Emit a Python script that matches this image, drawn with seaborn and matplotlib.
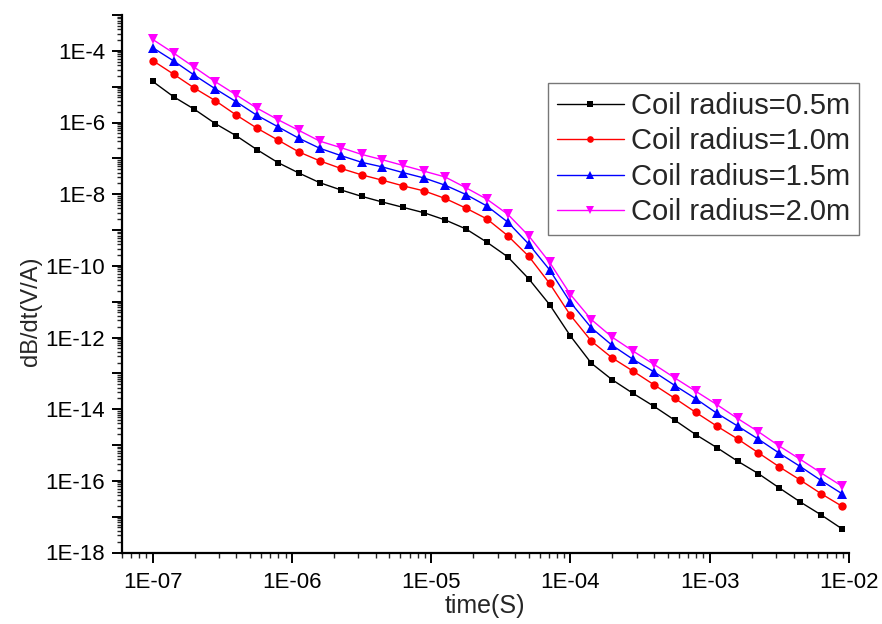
import numpy as np
import pandas as pd
import matplotlib
matplotlib.use("Agg")
import matplotlib.pyplot as plt
import matplotlib.ticker as mticker
import seaborn as sns

time_s = [1.000e-7, 1.413e-7, 1.995e-7, 2.818e-7, 3.981e-7, 5.623e-7, 7.943e-7,
          1.122e-6, 1.585e-6, 2.239e-6, 3.162e-6, 4.467e-6, 6.310e-6, 8.913e-6,
          1.259e-5, 1.778e-5, 2.512e-5, 3.548e-5, 5.012e-5, 7.079e-5,
          1.000e-4, 1.413e-4, 1.995e-4, 2.818e-4, 3.981e-4, 5.623e-4, 7.943e-4,
          1.122e-3, 1.585e-3, 2.239e-3, 3.162e-3, 4.467e-3, 6.310e-3, 8.913e-3]

r05 = [1.41e-5, 5.25e-6, 2.34e-6, 9.33e-7, 4.27e-7, 1.74e-7, 7.59e-8, 3.89e-8, 2.09e-8,
       1.32e-8, 8.71e-9, 6.03e-9, 4.27e-9, 3.02e-9, 1.91e-9, 1.07e-9, 4.57e-10, 1.78e-10,
       4.37e-11, 8.32e-12, 1.10e-12, 1.91e-13, 6.61e-14, 2.75e-14, 1.20e-14, 4.90e-15,
       1.95e-15, 8.51e-16, 3.55e-16, 1.58e-16, 6.31e-17, 2.57e-17, 1.12e-17, 4.57e-18]

r10 = [5.37e-5, 2.24e-5, 9.12e-6, 4.07e-6, 1.62e-6, 6.92e-7, 3.24e-7, 1.51e-7, 8.51e-8,
       5.25e-8, 3.47e-8, 2.45e-8, 1.70e-8, 1.23e-8, 7.59e-9, 4.07e-9, 2.04e-9, 6.92e-10,
       1.86e-10, 3.24e-11, 4.17e-12, 7.94e-13, 2.69e-13, 1.15e-13, 4.79e-14, 2.00e-14,
       8.13e-15, 3.39e-15, 1.48e-15, 6.03e-16, 2.45e-16, 1.05e-16, 4.37e-17, 1.95e-17]

r15 = [1.23e-4, 5.25e-5, 2.09e-5, 8.71e-6, 3.80e-6, 1.58e-6, 7.59e-7, 3.63e-7, 1.91e-7,
       1.20e-7, 7.76e-8, 5.75e-8, 3.98e-8, 2.82e-8, 1.78e-8, 9.77e-9, 4.68e-9, 1.66e-9,
       4.07e-10, 7.76e-11, 9.55e-12, 1.86e-12, 6.03e-13, 2.45e-13, 1.10e-13, 4.57e-14,
       1.95e-14, 7.76e-15, 3.39e-15, 1.45e-15, 5.89e-16, 2.51e-16, 1.02e-16, 4.37e-17]

r20 = [2.09e-4, 8.71e-5, 3.47e-5, 1.38e-5, 5.89e-6, 2.51e-6, 1.20e-6, 6.03e-7, 3.02e-7,
       2.00e-7, 1.29e-7, 9.12e-8, 6.31e-8, 4.37e-8, 3.02e-8, 1.51e-8, 7.24e-9, 2.75e-9,
       6.92e-10, 1.26e-10, 1.58e-11, 3.16e-12, 1.02e-12, 4.17e-13, 1.78e-13, 7.41e-14,
       3.16e-14, 1.35e-14, 5.50e-15, 2.34e-15, 9.33e-16, 3.98e-16, 1.66e-16, 7.08e-17]

labels = ["Coil radius=0.5m", "Coil radius=1.0m", "Coil radius=1.5m", "Coil radius=2.0m"]
series = [r05, r10, r15, r20]

df = pd.concat([pd.DataFrame({"time": time_s, "value": s, "series": lab})
                for s, lab in zip(series, labels)], ignore_index=True)

sns.set_style("ticks")
plt.rcParams["font.family"] = ["Liberation Sans", "DejaVu Sans"]

fig = plt.figure(figsize=(8.82, 6.24), dpi=100)
ax = fig.add_axes([121.7 / 882, 1 - 552.5 / 624, (849 - 121.7) / 882, (552.5 - 15) / 624])

palette = {labels[0]: "#000000", labels[1]: "#FF0000", labels[2]: "#0000FF", labels[3]: "#FF00FF"}
markers = {labels[0]: "s", labels[1]: "o", labels[2]: "^", labels[3]: "v"}
sizes = {labels[0]: 5, labels[1]: 6, labels[2]: 7, labels[3]: 7}

for lab in labels:
    sub = df[df["series"] == lab]
    sns.lineplot(data=sub, x="time", y="value", ax=ax, color=palette[lab],
                 marker=markers[lab], markersize=sizes[lab], markeredgewidth=0,
                 linewidth=1.0, label=lab, estimator=None, sort=False)

ax.set_xscale("log")
ax.set_yscale("log")
ax.set_xlim(6e-8, 1e-2)
ax.set_ylim(1e-18, 1e-3)

ax.xaxis.set_major_locator(mticker.LogLocator(base=10, numticks=20))
ax.xaxis.set_minor_locator(mticker.LogLocator(base=10, subs=np.arange(2, 10), numticks=50))
ax.yaxis.set_major_locator(mticker.LogLocator(base=10, numticks=30))
ax.yaxis.set_minor_locator(mticker.LogLocator(base=10, subs=np.arange(2, 10), numticks=100))


def xfmt(v, pos):
    e = int(round(np.log10(v)))
    return "1E-%02d" % (-e)


def yfmt(v, pos):
    e = int(round(np.log10(v)))
    if e % 2 != 0 or e > -4:
        return ""
    return "1E%d" % e


ax.xaxis.set_major_formatter(mticker.FuncFormatter(xfmt))
ax.yaxis.set_major_formatter(mticker.FuncFormatter(yfmt))
ax.xaxis.set_minor_formatter(mticker.NullFormatter())
ax.yaxis.set_minor_formatter(mticker.NullFormatter())

for side in ["top", "right"]:
    ax.spines[side].set_visible(False)
for side in ["left", "bottom"]:
    ax.spines[side].set_linewidth(1.6)
    ax.spines[side].set_color("black")

ax.tick_params(axis="both", which="major", direction="out", length=7, width=1.4,
               labelsize=16, colors="black")
ax.tick_params(axis="x", which="major", pad=7)
ax.tick_params(axis="y", which="major", pad=5)
ax.tick_params(axis="both", which="minor", direction="out", length=3.5, width=1.0)

ax.set_xlabel("time(S)", fontsize=18, labelpad=1)
ax.set_ylabel("dB/dt(V/A)", fontsize=17, labelpad=2)
ax.yaxis.set_label_coords((42 - 121.7) / 727.3, (552.5 - 311) / 537.5)

leg = ax.legend(loc="upper left", bbox_to_anchor=(548 / 882, 1 - 83 / 624),
                bbox_transform=fig.transFigure, fontsize=21, frameon=True,
                fancybox=False, shadow=False, handlelength=2.3, handletextpad=0.25,
                borderpad=0.3, labelspacing=0.26, borderaxespad=0, markerscale=0.8)
leg.get_frame().set_edgecolor("#555555")
leg.get_frame().set_linewidth(1.0)

fig.savefig("out.png", dpi=100)
